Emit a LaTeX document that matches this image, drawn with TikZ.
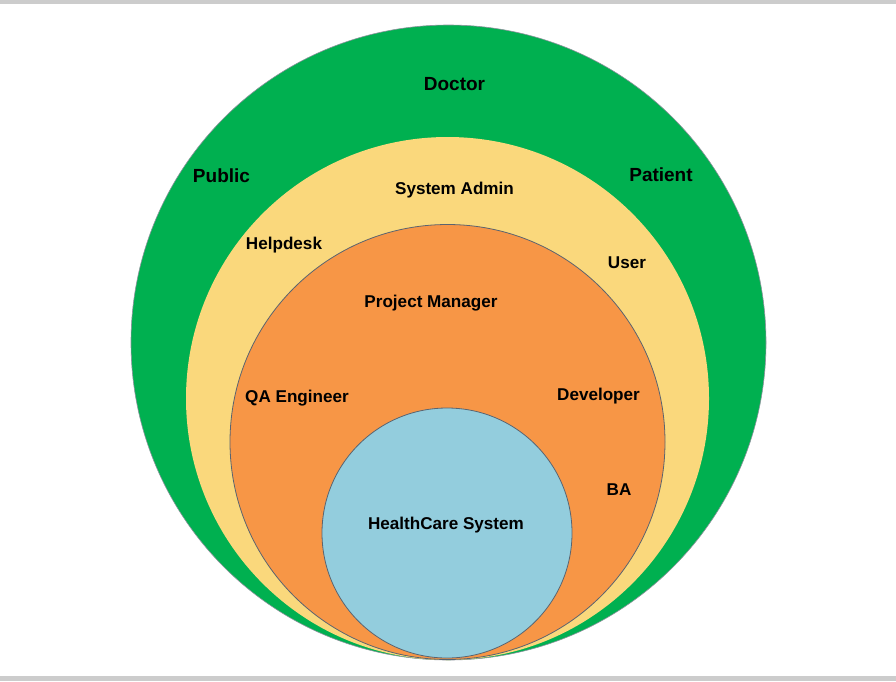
\documentclass[tikz,border=0pt]{standalone}
\usepackage{fontspec}
\setmainfont{Liberation Sans}
\definecolor{cgreen}{HTML}{00B050}
\definecolor{cyellow}{HTML}{FAD87C}
\definecolor{corange}{HTML}{F79646}
\definecolor{cblue}{HTML}{93CDDD}
\definecolor{cbar}{HTML}{CCCCCC}
\definecolor{cline}{HTML}{5A6470}
\begin{document}
\begin{tikzpicture}[x=1pt,y=-1pt,
  ring/.style={circle,inner sep=0pt,outer sep=0pt},
  biglabel/.style={anchor=base,inner sep=0pt,font=\fontsize{19}{22}\selectfont\bfseries},
  smalllabel/.style={anchor=base,inner sep=0pt,font=\fontsize{17.1}{20}\selectfont\bfseries}]
\useasboundingbox (0,0) rectangle (896,681);
\fill[white] (0,0) rectangle (896,681);
\fill[cbar] (0,0) rectangle (896,3.7);
\fill[cbar] (0,676) rectangle (896,681);
\node[ring,fill=cgreen,draw=cline!70,line width=0.6pt,minimum size=635pt] (outer) at (448.5,342.5) {};
\node[ring,fill=cyellow,minimum size=523pt] (middle) at (447.5,398.5) {};
\node[ring,fill=corange,draw=cline,line width=0.8pt,minimum size=435pt] (inner) at (447.5,442) {};
\node[ring,fill=cblue,draw=cline,line width=0.8pt,minimum size=250pt] (core) at (447,533) {};
\node[biglabel] (doctor) at (454.5,90) {Doctor};
\node[biglabel] (public) at (221.5,182) {Public};
\node[biglabel] (patient) at (661,181) {Patient};
\node[smalllabel] (sysadmin) at (454.5,194) {System Admin};
\node[smalllabel] (helpdesk) at (284,249) {Helpdesk};
\node[smalllabel] (user) at (627,268) {User};
\node[smalllabel] (pm) at (431,307) {Project Manager};
\node[smalllabel] (qa) at (297,402) {QA Engineer};
\node[smalllabel] (dev) at (598.5,400) {Developer};
\node[smalllabel] (ba) at (619,495) {BA};
\node[smalllabel] (hcs) at (446,529) {HealthCare System};
\end{tikzpicture}
\end{document}
